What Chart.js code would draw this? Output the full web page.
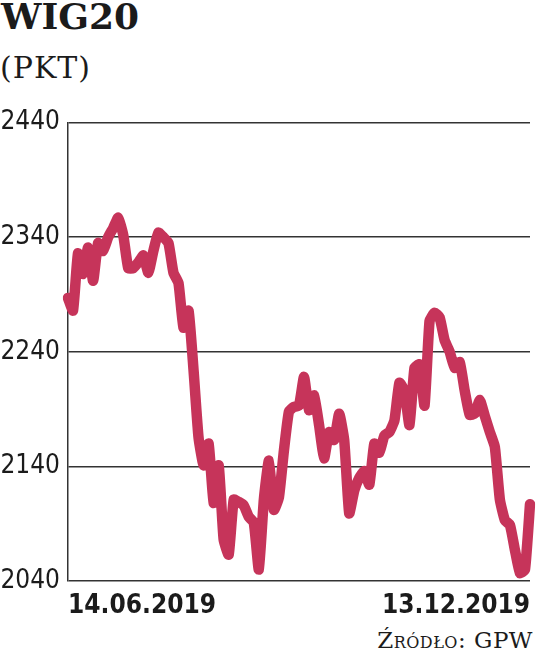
<!DOCTYPE html>
<html>
<head>
<meta charset="utf-8">
<script src="https://cdn.jsdelivr.net/npm/chart.js@4"></script>
<style>
  body { margin: 0; background: #fff; width: 536px; height: 664px; position: relative; overflow: hidden; }
  .title { position: absolute; left: 1px; top: -5px; font: bold 36px 'DejaVu Serif', serif; color: #1b1b1b; }
  .unit { position: absolute; left: 0px; top: 50px; font: 30px 'DejaVu Serif', serif; color: #1b1b1b; letter-spacing: 1px; }
  .source { position: absolute; right: 3px; top: 627px; font: 23px 'DejaVu Serif', serif; font-variant: small-caps; color: #1b1b1b; letter-spacing: 0.5px; }
  #chartWrap { position: absolute; left: 0; top: 99px; width: 536px; height: 527px; }
</style>
</head>
<body>
<div class="title">WIG20</div>
<div class="unit">(PKT)</div>
<div class="source">Źródło: GPW</div>
<div id="chartWrap"><canvas id="chart"></canvas></div>
<script>
// Tick labels
const firstDate = '14.06.2019';
const lastDate = '13.12.2019';
const yTicks = [2040, 2140, 2240, 2340, 2440];

// WIG20 closing values (evenly spaced sessions)
const wig20 = [
    2287, 2276, 2326, 2308, 2331, 2302, 2335, 2328, 2340, 2348,
    2357, 2342, 2313, 2313, 2318, 2324, 2309, 2328, 2344, 2340,
    2335, 2309, 2300, 2261, 2276, 2224, 2165, 2141, 2160, 2108,
    2141, 2076, 2063, 2111, 2109, 2106, 2096, 2091, 2050, 2111,
    2145, 2102, 2113, 2154, 2188, 2192, 2193, 2218, 2189, 2202,
    2176, 2147, 2170, 2163, 2186, 2163, 2099, 2119, 2130, 2136,
    2124, 2160, 2152, 2167, 2170, 2180, 2213, 2206, 2176, 2226,
    2229, 2193, 2267, 2274, 2270, 2250, 2240, 2226, 2231, 2206,
    2185, 2186, 2198, 2184, 2170, 2157, 2111, 2093, 2089, 2067,
    2047, 2050, 2107
];

const labels = wig20.map((v, i) => i === 0 ? firstDate : (i === wig20.length - 1 ? lastDate : ''));

const ctx = document.getElementById('chart').getContext('2d');
new Chart(ctx, {
    type: 'line',
    data: {
        labels: labels,
        datasets: [{
            data: wig20,
            borderColor: '#c6345a',
            borderWidth: 10.5,
            borderJoinStyle: 'round',
            borderCapStyle: 'round',
            pointRadius: 0,
            tension: 0.15,
            fill: false
        }]
    },
    options: {
        responsive: true,
        maintainAspectRatio: false,
        animation: false,
        layout: { padding: { top: 17, right: 6, left: 0, bottom: 0 } },
        plugins: {
            legend: { display: false },
            tooltip: { enabled: false }
        },
        scales: {
            x: {
                grid: { display: false },
                border: { display: false },
                ticks: {
                    autoSkip: false,
                    maxRotation: 0,
                    align: 'inner',
                    padding: 2,
                    color: '#1b1b1b',
                    font: { family: "'DejaVu Sans Condensed', 'DejaVu Sans', sans-serif", size: 26, weight: '600' }
                },
                afterFit: function(scale) { scale.height = 45; }
            },
            y: {
                min: 2040,
                max: 2440,
                afterBuildTicks: function(scale) {
                    scale.ticks = yTicks.map(v => ({ value: v }));
                },
                grid: { color: '#333', lineWidth: 1.5, drawTicks: false },
                border: { display: true, color: '#333', width: 1.5 },
                ticks: {
                    padding: 8,
                    color: '#1b1b1b',
                    callback: function(value) { return String(value); },
                    font: { family: "'DejaVu Sans Condensed', 'DejaVu Sans', sans-serif", size: 26 }
                },
                afterFit: function(scale) { scale.width = 68; }
            }
        }
    }
});
</script>
</body>
</html>
